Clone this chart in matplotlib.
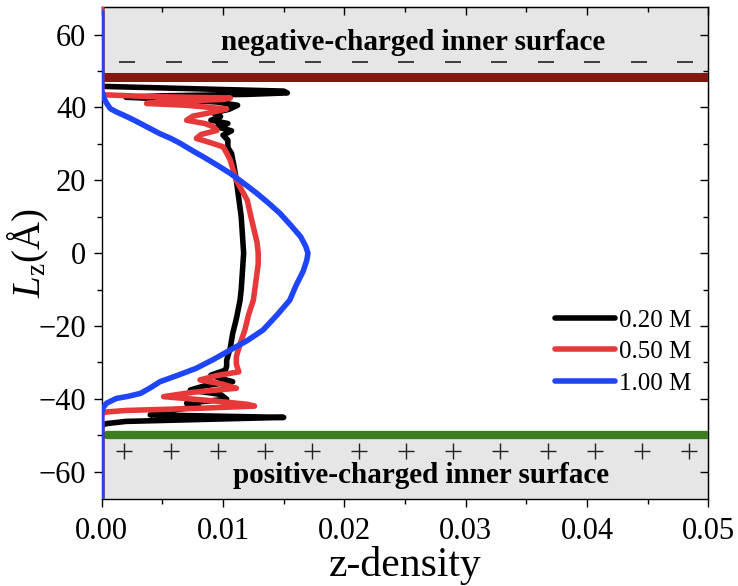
import numpy as np
import matplotlib
matplotlib.use('Agg')
import matplotlib.pyplot as plt

plt.rcParams['font.family'] = ['Liberation Serif', 'DejaVu Serif']
plt.rcParams['mathtext.fontset'] = 'custom'
plt.rcParams['mathtext.rm'] = 'Liberation Serif'
plt.rcParams['mathtext.it'] = 'Liberation Serif:italic'

# z-density profiles (density, z in Angstrom), read from top to bottom
z_020 = [67.5, 45.8, 44.5, 44.0, 43.6, 43.2, 42.8, 42.2, 41.5, 40.6, 39.5, 38.5, 37.5,
         36.5, 35.6, 34.7, 33.6, 32.4, 31.0, 29.0, 27.4, 24.0, 20.0, 15.0, 10.0, 5.0,
         0.0, -5.0, -10.0, -13.0, -18.0, -22.0, -26.0, -29.4, -31.0, -32.1, -33.5,
         -34.4, -35.3, -36.4, -37.6, -38.8, -40.1, -41.2, -42.2, -43.3, -44.4, -45.1,
         -45.6, -46.2, -46.8, -47.3, -67.5]
d_020 = [0.0, 0.0, 0.0150, 0.0153, 0.0120, 0.0050, 0.0020, 0.0060, 0.0095, 0.0112,
         0.0105, 0.0092, 0.0098, 0.0090, 0.0104, 0.0095, 0.0107, 0.0100, 0.0104,
         0.0104, 0.0107, 0.0109, 0.0111, 0.0113, 0.0115, 0.0116, 0.0117, 0.0116,
         0.0115, 0.0114, 0.0111, 0.0108, 0.0106, 0.0103, 0.0103, 0.0102, 0.0090,
         0.0098, 0.0108, 0.0085, 0.0073, 0.0098, 0.0103, 0.0070, 0.0080, 0.0052,
         0.0040, 0.0150, 0.0090, 0.0020, 0.0004, 0.0, 0.0]

z_050 = [67.5, 43.5, 43.0, 42.6, 42.2, 41.6, 41.1, 40.6, 39.6, 38.6, 37.6, 36.5, 35.6,
         34.7, 33.7, 32.6, 31.5, 30.3, 29.2, 27.5, 25.5, 20.0, 14.5, 10.0, 7.2, 3.0,
         0.0, -3.0, -8.0, -12.9, -17.0, -21.1, -25.0, -28.4, -30.5, -32.6, -33.6,
         -34.8, -36.0, -37.1, -38.2, -39.4, -40.5, -41.5, -42.0, -42.6, -43.2, -43.6,
         -44.0, -67.5]
d_050 = [0.0, 0.0, 0.0040, 0.0106, 0.0100, 0.0050, 0.0037, 0.0070, 0.0103, 0.0090,
         0.0075, 0.0070, 0.0085, 0.0092, 0.0095, 0.0082, 0.0078, 0.0090, 0.0100,
         0.0103, 0.0106, 0.0111, 0.0120, 0.0123, 0.0125, 0.0128, 0.0129, 0.0129,
         0.0127, 0.0125, 0.0121, 0.0118, 0.0114, 0.0111, 0.0111, 0.0113, 0.0095,
         0.0081, 0.0100, 0.0111, 0.0075, 0.0051, 0.0090, 0.0120, 0.0126, 0.0080,
         0.0020, 0.0004, 0.0, 0.0]

z_100 = [66.2, 44.5, 43.8, 42.5, 41.2, 39.7, 38.8, 37.9, 36.8, 35.6, 34.2, 32.8, 31.5,
         30.1, 28.3, 26.4, 24.2, 21.9, 19.2, 16.4, 13.6, 10.9, 7.6, 4.5, 2.0, 0.0,
         -2.0, -5.0, -9.0, -12.9, -16.8, -21.1, -24.0, -26.6, -29.2, -31.6, -33.5,
         -35.3, -37.0, -38.5, -39.3, -39.9, -41.2, -42.5, -44.0, -67.5]
d_100 = [0.0, 0.0, 0.0001, 0.0002, 0.0004, 0.0007, 0.0012, 0.0018, 0.0025, 0.0032,
         0.0040, 0.0048, 0.0057, 0.0065, 0.0074, 0.0084, 0.0095, 0.0106, 0.0117,
         0.0128, 0.0138, 0.0147, 0.0156, 0.0164, 0.0168, 0.0170, 0.0169, 0.0166,
         0.0160, 0.0155, 0.0145, 0.0133, 0.0120, 0.0106, 0.0092, 0.0078, 0.0063,
         0.0048, 0.0040, 0.0032, 0.0022, 0.0012, 0.0004, 0.0001, 0.0, 0.0]

labels = ['0.20 M', '0.50 M', '1.00 M']
colors = ['black', '#e8393a', '#1f45fa']

# wall positions (Angstrom)
z_neg_wall = 48.5
z_pos_wall = -50.0
ymin, ymax = -67.5, 67.5
xmax = 0.05

fig = plt.figure(figsize=(7.38, 5.86), dpi=100)
ax = fig.add_axes([0.1378, 0.1485, 0.822, 0.839])

# charged walls
ax.axhspan(z_neg_wall, ymax, color='#e6e6e6', zorder=0, lw=0)
ax.axhspan(ymin, z_pos_wall, color='#e6e6e6', zorder=0, lw=0)
ax.plot([0, xmax], [z_neg_wall, z_neg_wall], color='#84170f', lw=6.5,
        solid_capstyle='butt', zorder=3)
ax.plot([0.0004, xmax], [z_pos_wall, z_pos_wall], color='#3b7d1f', lw=6,
        solid_capstyle='round', zorder=3)

# surface charge signs
x_minus = np.linspace(0.0021, 0.0481, 13)
x_plus = np.linspace(0.0018, 0.0484, 13)
ax.plot(x_minus, np.full(13, 52.6), ls='none', marker='_', ms=11, mew=1.2,
        color='#222222', zorder=2)
ax.plot(x_plus, np.full(13, -54.2), ls='none', marker='+', ms=11, mew=1.0,
        color='#222222', zorder=2)

ax.text(0.0257, 57.9, 'negative-charged inner surface', ha='center', va='center',
        fontsize=21, fontweight='bold')
ax.text(0.0263, -61.0, 'positive-charged inner surface', ha='center', va='center',
        fontsize=21, fontweight='bold')

for d, z, lab, c in zip([d_020, d_050, d_100], [z_020, z_050, z_100], labels, colors):
    ax.plot(d, z, color=c, lw=4, label=lab, solid_joinstyle='round',
            solid_capstyle='round', zorder=4)

ax.set_xlim(0, xmax)
ax.set_ylim(ymin, ymax)
ax.set_xticks(np.arange(0, 0.051, 0.01))
ax.set_xticks(np.arange(0.005, 0.05, 0.01), minor=True)
ax.set_xticklabels(['0.00', '0.01', '0.02', '0.03', '0.04', '0.05'])
ax.set_yticks(np.arange(-60, 61, 20))
ax.set_yticks(np.arange(-50, 61, 20), minor=True)

ax.tick_params(which='both', direction='out', top=False, right=False, labelsize=22)
ax.tick_params(which='major', length=6, width=1)
ax.tick_params(which='minor', length=3.5, width=1)
ax.tick_params(axis='x', pad=7)
ax.tick_params(axis='y', pad=5)

# inward ticks on the top and right spines
sec_x = ax.secondary_xaxis('top')
sec_x.set_xticks(np.arange(0, 0.051, 0.01))
sec_x.set_xticks(np.arange(0.005, 0.05, 0.01), minor=True)
sec_x.tick_params(which='both', direction='in', labeltop=False)
sec_x.tick_params(which='major', length=6, width=1)
sec_x.tick_params(which='minor', length=3.5, width=1)
sec_y = ax.secondary_yaxis('right')
sec_y.set_yticks(np.arange(-60, 61, 20))
sec_y.set_yticks(np.arange(-50, 61, 20), minor=True)
sec_y.tick_params(which='both', direction='in', labelright=False)
sec_y.tick_params(which='major', length=6, width=1)
sec_y.tick_params(which='minor', length=3.5, width=1)

for sp in ax.spines.values():
    sp.set_linewidth(1)

ax.set_xlabel('z-density', fontsize=30, labelpad=0)
ax.set_ylabel(r'$\mathit{L}_{\mathrm{z}}$(Å)', fontsize=28)
ax.yaxis.set_label_coords(-0.083, 0.5)

leg = ax.legend(loc='center right', bbox_to_anchor=(0.972, 0.299), frameon=False,
                fontsize=18, handlelength=2.4, handletextpad=0.15, labelspacing=0.36,
                borderaxespad=0, borderpad=0)

fig.savefig('out.png', dpi=100)
